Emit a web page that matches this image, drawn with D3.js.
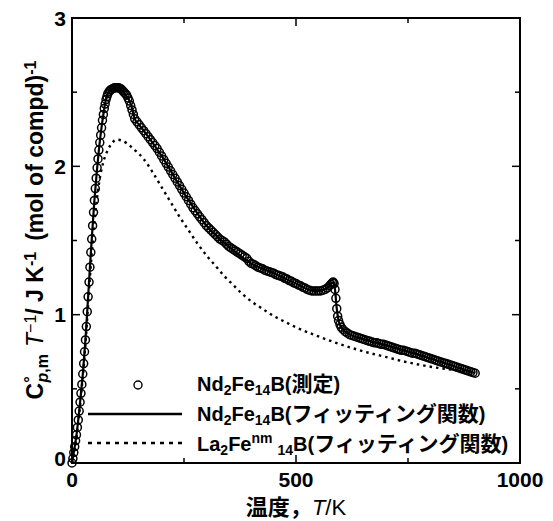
<!DOCTYPE html>
<html><head><meta charset="utf-8">
<script src="https://cdn.jsdelivr.net/npm/d3@7/dist/d3.min.js"></script>
<style>
html,body{margin:0;padding:0;background:#fff;}
svg{display:block;}
text{font-family:"Liberation Sans",Arial,"Noto Sans CJK JP",sans-serif;font-weight:bold;fill:#000;}
.cjk{font-family:"Noto Sans CJK JP",sans-serif;font-weight:bold;}
</style></head>
<body>
<svg id="chart" width="553" height="521"></svg>
<script>
// ---- data ----
const xTicks = [0, 500, 1000];
const xMinorTicks = [250, 750];
const yTicks = [0, 1, 2, 3];
const yMinorTicks = [0.5, 1.5, 2.5];

// Nd2Fe14B measured (T/K, Cp/T)
const measT = [0,2,4,6,8,10,12,14,16,18,20,22,24,26,28,30,32,34,36,38,40,42,44,46,48,50,52,54,56,58,60,62,64,66,68,70,72,74,76,78,80,
 83,86,89,92,95,98,101,104,107,110,113,116,119,122,125,128,131,134,137,140,
 145,150,155,160,165,170,175,180,185,190,195,200,205,210,215,220,225,230,235,240,245,250,255,260,265,270,275,280,285,290,295,300,
 305,310,315,320,325,330,335,340,345,350,355,360,365,370,375,380,385,390,395,400,405,410,415,420,425,430,435,440,445,450,455,460,
 465,470,475,480,485,490,495,500,505,510,515,520,525,530,535,540,545,550,555,560,565,570,575,578,581,583,585,587,589,591,593,595,598,601,
 605,610,615,620,625,630,635,640,645,650,655,660,665,670,675,680,685,690,695,700,705,710,715,720,725,730,735,740,745,750,755,760,
 765,770,775,780,785,790,795,800,805,810,815,820,825,830,835,840,845,850,855,860,865,870,875,880,885,890,895,900];
const measV = [0.00,0.03,0.07,0.11,0.15,0.19,0.24,0.29,0.35,0.41,0.47,0.53,0.60,0.67,0.75,0.83,0.92,1.02,1.12,1.22,1.32,1.42,1.51,1.60,1.69,1.77,1.85,1.92,1.99,2.05,2.11,2.16,2.21,2.26,2.31,2.35,2.39,2.42,2.45,2.47,2.49,
 2.505,2.515,2.52,2.525,2.53,2.53,2.53,2.53,2.525,2.52,2.51,2.50,2.49,2.48,2.46,2.44,2.41,2.38,2.35,2.32,
 2.30,2.28,2.26,2.24,2.22,2.20,2.18,2.16,2.14,2.12,2.095,2.07,2.045,2.02,1.995,1.97,1.945,1.92,1.895,1.87,1.845,1.82,1.795,1.77,1.745,1.72,1.70,1.68,1.66,1.64,1.62,1.60,
 1.585,1.57,1.555,1.54,1.525,1.51,1.50,1.49,1.475,1.46,1.45,1.44,1.43,1.42,1.41,1.40,1.39,1.38,1.36,1.345,1.34,1.33,1.32,1.315,1.31,1.30,1.295,1.29,1.285,1.28,1.27,1.265,
 1.26,1.255,1.245,1.24,1.23,1.225,1.215,1.21,1.20,1.195,1.185,1.18,1.17,1.165,1.16,1.16,1.16,1.16,1.16,1.165,1.17,1.18,1.195,1.205,1.215,1.22,1.21,1.17,1.11,1.04,0.99,0.96,0.935,0.915,
 0.90,0.885,0.875,0.865,0.86,0.855,0.85,0.845,0.84,0.835,0.83,0.825,0.82,0.815,0.81,0.81,0.805,0.80,0.80,0.795,0.79,0.785,0.78,0.775,0.77,0.765,0.76,0.76,0.755,0.75,0.745,0.74,
 0.74,0.735,0.73,0.725,0.72,0.715,0.71,0.705,0.70,0.695,0.69,0.685,0.68,0.675,0.67,0.665,0.66,0.655,0.65,0.645,0.64,0.635,0.63,0.625,0.62,0.615,0.61,0.605];

// Nd2Fe14B fitting function
const fitT = [0,5,10,15,20,25,30,35,40,45,50,55,60,65,70,75,80,90,100,110,120,130,135,140,150,170,200,250,300,350,400,450,500,540,560,575,583,587,591,595,600,620,650,700,800,900];
const fitV = [0,0.09,0.19,0.32,0.47,0.63,0.83,1.07,1.32,1.55,1.77,1.95,2.11,2.24,2.35,2.44,2.49,2.525,2.53,2.52,2.48,2.43,2.38,2.32,2.28,2.20,2.07,1.82,1.60,1.46,1.345,1.28,1.21,1.16,1.165,1.195,1.22,1.17,1.04,0.96,0.92,0.865,0.835,0.795,0.705,0.605];

// La2Fe(nm)14B fitting function
const laT = [0,10,20,30,40,50,60,70,80,90,100,110,120,140,160,180,200,220,240,260,280,300,320,340,360,380,400,420,440,460,480,500,540,580,620,660,700,740,780,820,860,900];
const laV = [0,0.17,0.45,0.80,1.25,1.62,1.88,2.03,2.11,2.16,2.18,2.175,2.16,2.11,2.05,1.96,1.86,1.76,1.66,1.57,1.48,1.40,1.33,1.26,1.20,1.14,1.09,1.05,1.01,0.975,0.945,0.915,0.865,0.82,0.78,0.745,0.715,0.685,0.66,0.64,0.625,0.61];

const legendLabels = ["測定", "フィッティング関数", "フィッティング関数"];

// ---- drawing ----
const svg = d3.select("#chart");
const L = 72, R = 520, T = 18, B = 463;
const x = d3.scaleLinear().domain([0, 1000]).range([L, R]);
const y = d3.scaleLinear().domain([0, 3]).range([B, T]);

// frame
svg.append("rect").attr("x", L).attr("y", T).attr("width", R - L).attr("height", B - T)
  .attr("fill", "none").attr("stroke", "#000").attr("stroke-width", 2);

// ticks (inward, all sides)
const tk = svg.append("g").attr("stroke", "#000").attr("stroke-width", 1.5);
yTicks.concat(yMinorTicks).forEach(v => {
  const len = yTicks.includes(v) ? 8 : 5;
  tk.append("line").attr("x1", L).attr("x2", L + len).attr("y1", y(v)).attr("y2", y(v));
  tk.append("line").attr("x1", R).attr("x2", R - len).attr("y1", y(v)).attr("y2", y(v));
});
xTicks.concat(xMinorTicks).forEach(v => {
  const len = xTicks.includes(v) ? 8 : 5;
  tk.append("line").attr("x1", x(v)).attr("x2", x(v)).attr("y1", B).attr("y2", B - len);
  tk.append("line").attr("x1", x(v)).attr("x2", x(v)).attr("y1", T).attr("y2", T + len);
});

// tick labels
svg.append("g").selectAll("text").data(yTicks).join("text")
  .attr("x", L - 6).attr("y", d => y(d) - (d === 0 ? 5 : 0)).attr("dy", "0.36em")
  .attr("text-anchor", "end").attr("font-size", 21).text(d => d);
svg.append("g").selectAll("text").data(xTicks).join("text")
  .attr("x", d => x(d)).attr("y", 487)
  .attr("text-anchor", "middle").attr("font-size", 21).text(d => d);

// curves
const lineGen = d3.line().x(d => x(d[0])).y(d => y(d[1])).curve(d3.curveMonotoneX);
svg.append("path").datum(laT.map((t, i) => [t, laV[i]]))
  .attr("d", lineGen).attr("fill", "none").attr("stroke", "#000")
  .attr("stroke-width", 2.4).attr("stroke-dasharray", "2.5,4");
svg.append("path").datum(fitT.map((t, i) => [t, fitV[i]]))
  .attr("d", lineGen).attr("fill", "none").attr("stroke", "#000").attr("stroke-width", 2.2);
svg.append("g").selectAll("circle").data(measT.map((t, i) => [t, measV[i]])).join("circle")
  .attr("cx", d => x(d[0])).attr("cy", d => y(d[1])).attr("r", 4)
  .attr("fill", "none").attr("stroke", "#000").attr("stroke-width", 1.5);

// legend
const lg = svg.append("g");
lg.append("circle").attr("cx", 138).attr("cy", 385).attr("r", 4)
  .attr("fill", "none").attr("stroke", "#000").attr("stroke-width", 1.4);
lg.append("line").attr("x1", 88).attr("x2", 182).attr("y1", 414).attr("y2", 414)
  .attr("stroke", "#000").attr("stroke-width", 2.6);
lg.append("line").attr("x1", 88).attr("x2", 182).attr("y1", 443).attr("y2", 443)
  .attr("stroke", "#000").attr("stroke-width", 2.4).attr("stroke-dasharray", "4,5");

function ndLabel(yPos, jp) {
  const t = lg.append("text").attr("x", 197).attr("y", yPos).attr("font-size", 20);
  t.append("tspan").text("Nd");
  t.append("tspan").attr("font-size", 14).attr("baseline-shift", "-30%").text("2");
  t.append("tspan").text("Fe");
  t.append("tspan").attr("font-size", 14).attr("baseline-shift", "-30%").text("14");
  t.append("tspan").text("B(");
  t.append("tspan").attr("class", "cjk").attr("font-size", 21).text(jp);
  t.append("tspan").text(")");
}
ndLabel(391, legendLabels[0]);
ndLabel(421, legendLabels[1]);
{
  const t = lg.append("text").attr("x", 197).attr("y", 451).attr("font-size", 20);
  t.append("tspan").text("La");
  t.append("tspan").attr("font-size", 14).attr("baseline-shift", "-30%").text("2");
  t.append("tspan").text("Fe");
  t.append("tspan").attr("font-size", 14).attr("baseline-shift", "55%").text("nm");
  t.append("tspan").attr("font-size", 14).attr("dx", 5).attr("baseline-shift", "-30%").text("14");
  t.append("tspan").text("B(");
  t.append("tspan").attr("class", "cjk").attr("font-size", 21).text(legendLabels[2]);
  t.append("tspan").text(")");
}

// x axis title
{
  const t = svg.append("text").attr("x", 296).attr("y", 515).attr("text-anchor", "middle").attr("font-size", 22);
  t.append("tspan").attr("class", "cjk").text("温度，");
  t.append("tspan").attr("font-style", "italic").attr("font-weight", "normal").text("T");
  t.append("tspan").attr("font-weight", "normal").text("/K");
}
// y axis title
{
  const t = svg.append("text").attr("transform", "translate(43,230) rotate(-90)")
    .attr("text-anchor", "middle").attr("font-size", 23);
  t.append("tspan").text("C");
  t.append("tspan").attr("font-size", 16).attr("baseline-shift", "45%").text("°");
  t.append("tspan").attr("font-size", 16).attr("dx", -6).attr("baseline-shift", "-30%")
    .html('<tspan font-style="italic">p</tspan>,m');
  t.append("tspan").attr("font-style", "italic").attr("font-weight", "normal").attr("dx", 7).text("T");
  t.append("tspan").attr("font-size", 16).attr("font-weight", "normal").attr("baseline-shift", "45%").text("−1");
  t.append("tspan").text("/ J K");
  t.append("tspan").attr("font-size", 16).attr("baseline-shift", "45%").text("-1");
  t.append("tspan").attr("dx", 11).text("(mol of compd)");
  t.append("tspan").attr("font-size", 16).attr("baseline-shift", "45%").text("-1");
}
</script>
</body></html>
